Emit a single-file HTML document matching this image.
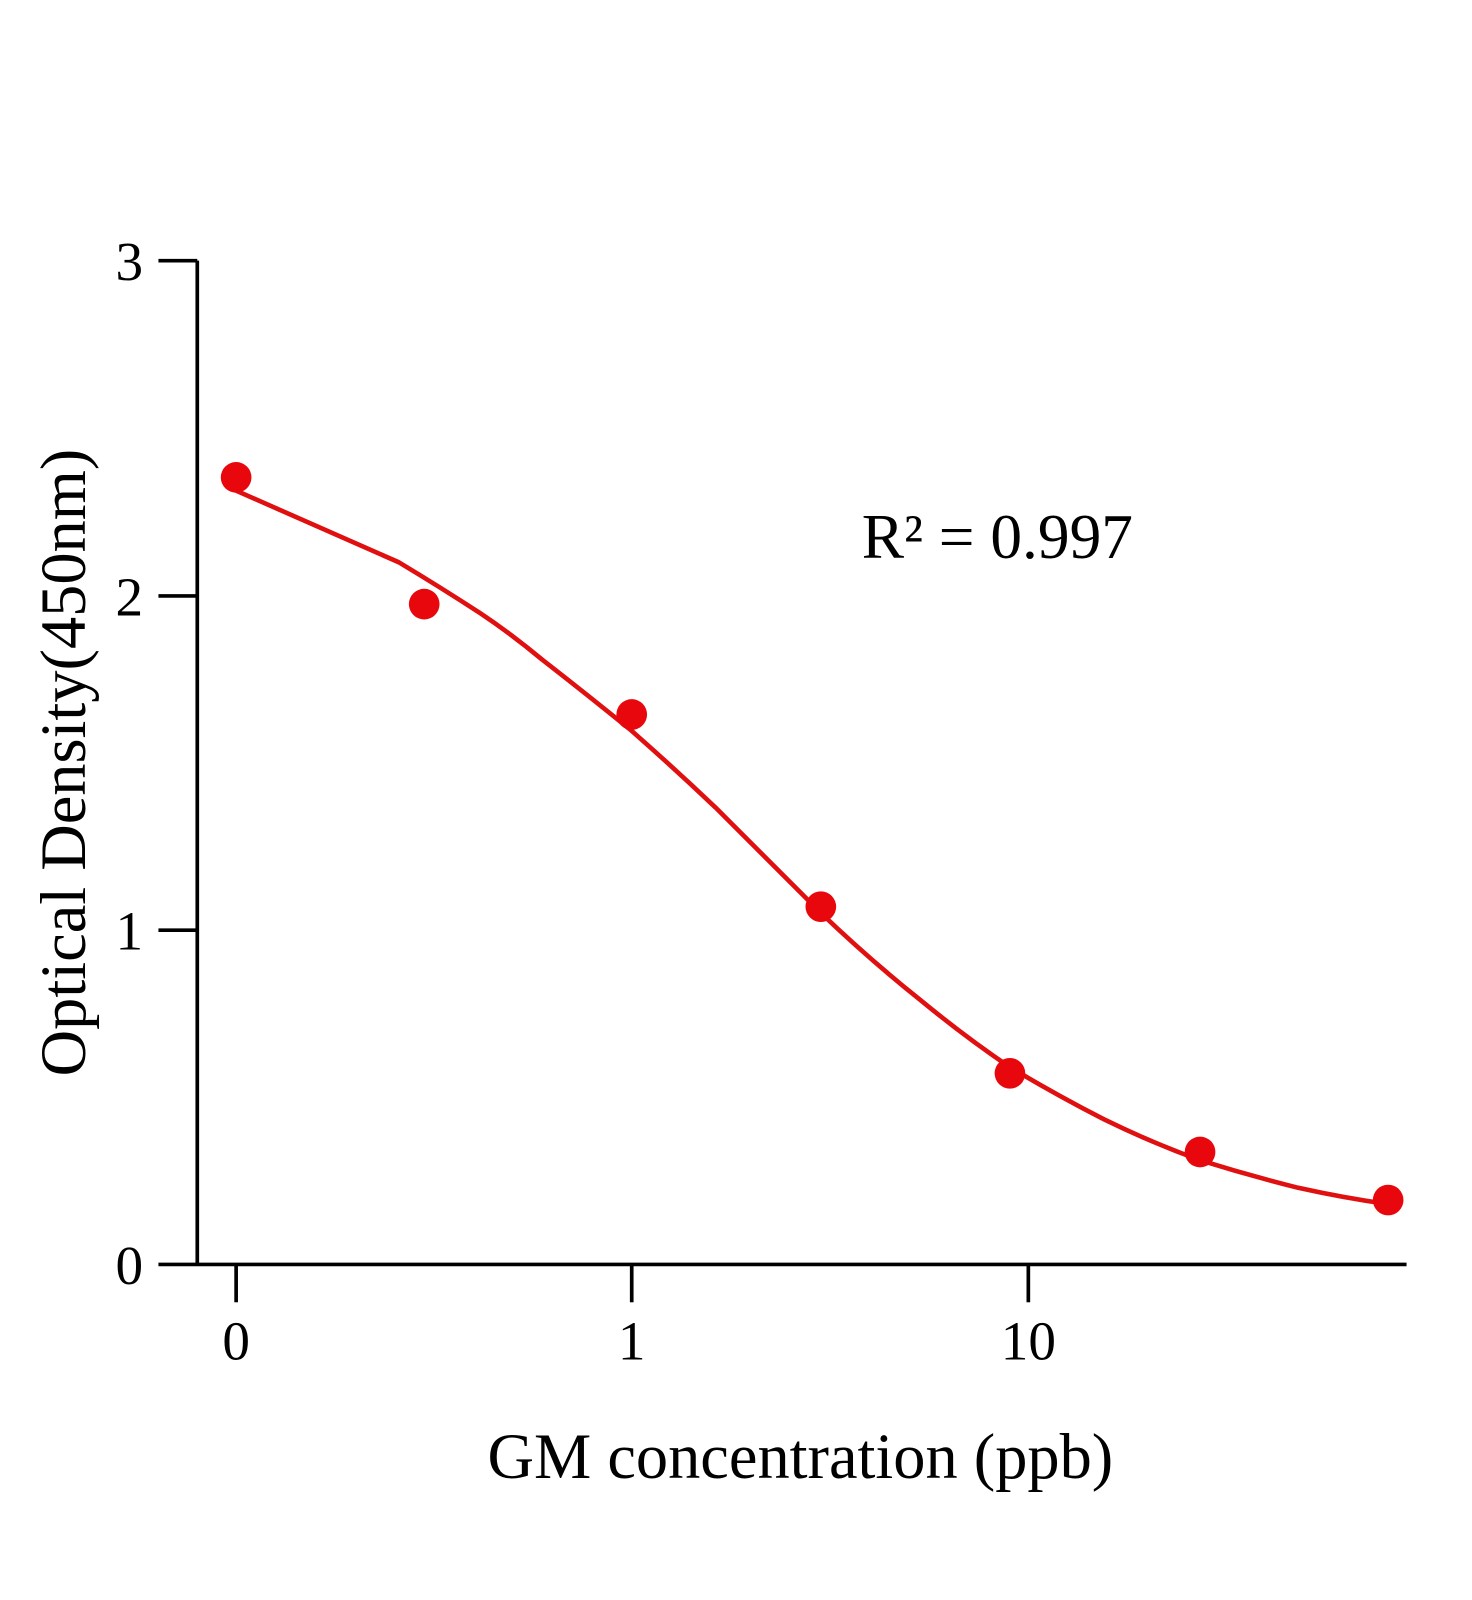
<!DOCTYPE html>
<html><head><meta charset="utf-8"><style>
html,body{margin:0;padding:0;background:#fff;}
svg{display:block;}
text{font-family:"Liberation Serif",serif;fill:#000;}
</style></head><body>
<svg width="1472" height="1600" viewBox="0 0 1472 1600" xmlns="http://www.w3.org/2000/svg">
<rect width="1472" height="1600" fill="#fff"/>
<g transform="scale(1.0222)">
<g stroke="#000" stroke-width="3.6" fill="none">
<line x1="193" y1="255" x2="193" y2="1237"/>
<line x1="155" y1="1237" x2="1376" y2="1237"/>
<line x1="155" y1="255" x2="193" y2="255"/>
<line x1="155" y1="583" x2="193" y2="583"/>
<line x1="155" y1="910" x2="193" y2="910"/>
<line x1="231" y1="1237" x2="231" y2="1274"/>
<line x1="618" y1="1237" x2="618" y2="1274"/>
<line x1="1006" y1="1237" x2="1006" y2="1274"/>
</g>
<g font-size="54" text-anchor="end">
<text x="140" y="274">3</text>
<text x="140" y="602">2</text>
<text x="140" y="929">1</text>
<text x="140" y="1256">0</text>
</g>
<g font-size="54" text-anchor="middle">
<text x="231" y="1330">0</text>
<text x="618" y="1330">1</text>
<text x="1006" y="1330">10</text>
</g>
<text x="783" y="1446" font-size="63" text-anchor="middle">GM concentration (ppb)</text>
<text transform="translate(83,746) rotate(-90)" font-size="63" text-anchor="middle">Optical Density(450nm)</text>
<text x="843" y="546" font-size="62">R² = 0.997</text>
<path d="M231,480 L390,550 Q430,574 470,600 Q500,620 530,645 Q575,680 618,715 Q660,752 700,790 Q750,840 803,893 Q850,938 900,978 Q945,1015 988,1044 Q1035,1072 1080,1095 Q1127,1118 1174,1135 Q1222,1150 1270,1162 Q1315,1172 1358,1178" fill="none" stroke="#e01010" stroke-width="4.5"/>
<g fill="#e8070c">
<circle cx="231" cy="467" r="15"/>
<circle cx="415" cy="591" r="15"/>
<circle cx="618" cy="699" r="15"/>
<circle cx="803" cy="887" r="15"/>
<circle cx="988" cy="1050" r="15"/>
<circle cx="1174" cy="1127" r="15"/>
<circle cx="1358" cy="1174" r="15"/>
</g>
</g>
</svg>
</body></html>
